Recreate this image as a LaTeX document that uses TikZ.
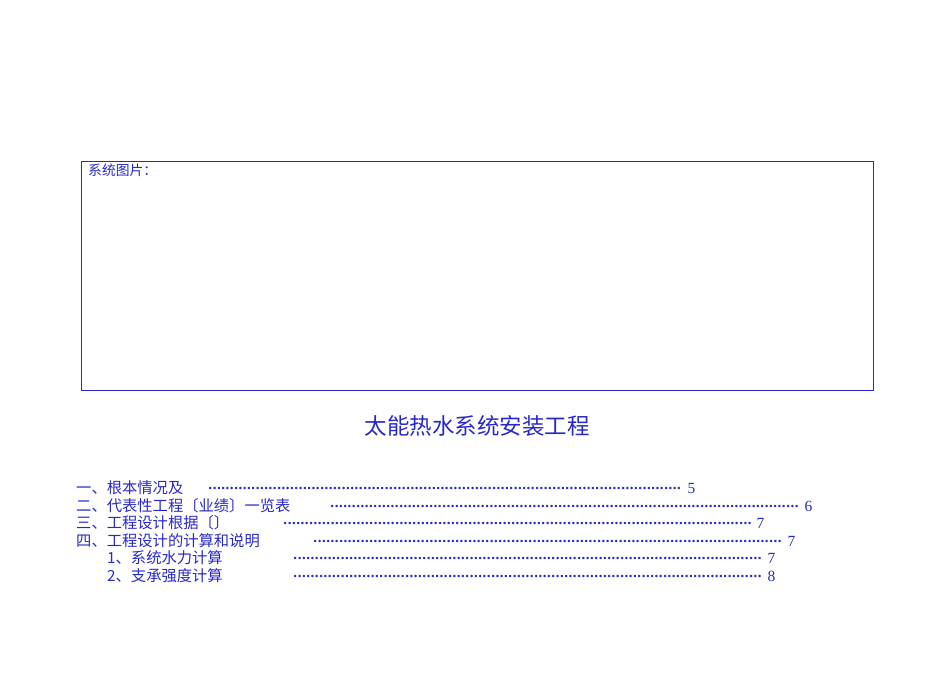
\documentclass[tikz,border=0pt]{standalone}
\usepackage{fontspec}
\setmainfont{Liberation Serif}
\newfontfamily\cjk{Noto Sans CJK SC}
\definecolor{tb}{RGB}{40,40,200}
\newcommand\mydots{\leaders\hbox to 4.3pt{\hss\textbf{.}\hss}\hfill}
\begin{document}
\begin{tikzpicture}[x=1pt,y=-1pt,
  lab/.style={anchor=west,inner sep=0pt,text=tb,font=\cjk\fontsize{15.3}{15.3}\selectfont},
  dots/.style={anchor=west,inner sep=0pt,text=tb,font=\fontsize{15}{15}\selectfont},
  num/.style={anchor=west,inner sep=0pt,text=tb,font=\fontsize{15.5}{15.5}\selectfont}]
\useasboundingbox (0,0) rectangle (950,672);
\node[draw=tb,line width=0.6pt,minimum width=792,minimum height=229,anchor=north west,inner sep=0pt] (box) at (81,161) {};
\node[anchor=north west,inner sep=0pt,text=tb,font=\cjk\fontsize{13.8}{13.8}\selectfont] (bt) at (88,163.5) {系统图片：};
\node[text=tb,font=\cjk\fontsize{22.5}{22.5}\selectfont] (title) at (477,426) {太能热水系统安装工程};
\newcommand\tocline[7]{%
  \node[lab] (l#7) at (#1,#2) {#3};
  \node[dots] (d#7) at (#4,#2) {\hbox to #5pt{\mydots}};
  \node[num] (n#7) at ([xshift=3pt]d#7.east) {#6};}
\tocline{76}{488}{一、根本情况及}{208}{476}{5}{a}
\tocline{76}{506}{二、代表性工程〔业绩〕一览表}{330}{471}{6}{b}
\tocline{76}{523}{三、工程设计根据〔〕}{283}{470}{7}{c}
\tocline{76}{541}{四、工程设计的计算和说明}{313}{471}{7}{d}
\tocline{107}{558}{1、系统水力计算}{293}{471}{7}{e}
\tocline{107}{576}{2、支承强度计算}{293}{471}{8}{f}
\end{tikzpicture}
\end{document}
